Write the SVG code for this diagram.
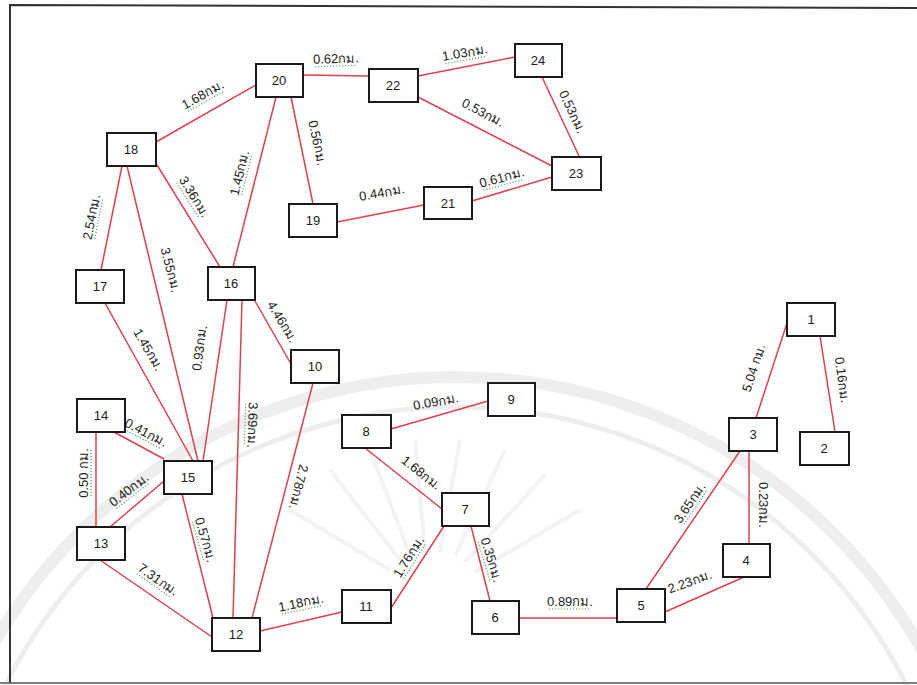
<svg xmlns="http://www.w3.org/2000/svg" width="917" height="685" viewBox="0 0 917 685">
<style>
.wm{fill:none;stroke:#eeeeee}
.frame{fill:none;stroke:#333;stroke-width:2}
.e{stroke:#e0404f;stroke-width:1.5;fill:none}
.box{fill:#fff;stroke:#1a1a1a;stroke-width:2}
.n{font-family:"Liberation Sans","DejaVu Sans",sans-serif;font-size:13px;fill:#1a1a1a;text-anchor:middle}
.l{font-family:"Liberation Sans","DejaVu Sans","Noto Sans",sans-serif;font-size:13px;fill:#222;text-anchor:middle}
.sq{stroke:#3a9a4a;stroke-width:1.2;stroke-dasharray:1 2}
</style>
<rect width="917" height="685" fill="#fff"/>
<g id="watermark">
<circle class="wm" cx="456" cy="911" r="534" stroke-width="12"/>
<circle class="wm" cx="456" cy="911" r="504" stroke-width="5"/>
<g stroke="#f3f3f3" stroke-width="4" fill="none">
<line x1="400" y1="560" x2="330" y2="470"/>
<line x1="410" y1="555" x2="370" y2="450"/>
<line x1="425" y1="552" x2="415" y2="440"/>
<line x1="440" y1="552" x2="460" y2="440"/>
<line x1="455" y1="556" x2="505" y2="450"/>
<line x1="465" y1="562" x2="545" y2="475"/>
<line x1="390" y1="570" x2="290" y2="510"/>
<line x1="475" y1="572" x2="580" y2="510"/>
</g>
</g>
<path class="frame" d="M10 683 L10 5 L917 8"/>
<line x1="0" y1="683" x2="917" y2="683" stroke="#555" stroke-width="1.5"/>
<g id="connectors">
<line class="e" x1="156" y1="142" x2="256" y2="85"/>
<line class="e" x1="303" y1="75" x2="369" y2="76"/>
<line class="e" x1="418" y1="76" x2="515" y2="57"/>
<line class="e" x1="542" y1="77" x2="580" y2="158"/>
<line class="e" x1="418" y1="97" x2="552" y2="166"/>
<line class="e" x1="472" y1="201" x2="552" y2="177"/>
<line class="e" x1="337" y1="222" x2="424" y2="205"/>
<line class="e" x1="291" y1="97" x2="313" y2="204"/>
<line class="e" x1="276" y1="97" x2="233" y2="267"/>
<line class="e" x1="157" y1="165" x2="220" y2="267"/>
<line class="e" x1="122" y1="166" x2="101" y2="270"/>
<line class="e" x1="127" y1="166" x2="198" y2="461"/>
<line class="e" x1="105" y1="303" x2="193" y2="461"/>
<line class="e" x1="227" y1="300" x2="203" y2="461"/>
<line class="e" x1="242" y1="300" x2="233" y2="618"/>
<line class="e" x1="255" y1="301" x2="291" y2="364"/>
<line class="e" x1="313" y1="383" x2="252" y2="618"/>
<line class="e" x1="112" y1="431" x2="164" y2="459"/>
<line class="e" x1="96" y1="431" x2="96" y2="527"/>
<line class="e" x1="110" y1="527" x2="164" y2="481"/>
<line class="e" x1="100" y1="560" x2="212" y2="637"/>
<line class="e" x1="182" y1="494" x2="213" y2="618"/>
<line class="e" x1="260" y1="631" x2="342" y2="612"/>
<line class="e" x1="391" y1="608" x2="444" y2="526"/>
<line class="e" x1="471" y1="526" x2="490" y2="601"/>
<line class="e" x1="365" y1="448" x2="442" y2="509"/>
<line class="e" x1="391" y1="429" x2="488" y2="401"/>
<line class="e" x1="519" y1="618" x2="617" y2="618"/>
<line class="e" x1="665" y1="612" x2="744" y2="577"/>
<line class="e" x1="646" y1="589" x2="740" y2="451"/>
<line class="e" x1="749" y1="451" x2="749" y2="544"/>
<line class="e" x1="756" y1="418" x2="787" y2="323"/>
<line class="e" x1="820" y1="336" x2="835" y2="432"/>
</g>
<g id="labels">
<g transform="translate(203,95) rotate(-29)"><text class="l" y="4">1.68กม.</text><line class="sq" x1="-21" y1="7" x2="21" y2="7"/></g>
<g transform="translate(336,59) rotate(-2)"><text class="l" y="4">0.62กม.</text><line class="sq" x1="-21" y1="7" x2="21" y2="7"/></g>
<g transform="translate(465,53) rotate(-10)"><text class="l" y="4">1.03กม.</text><line class="sq" x1="-21" y1="7" x2="21" y2="7"/></g>
<g transform="translate(572,112) rotate(65)"><text class="l" y="4">0.53กม.</text></g>
<g transform="translate(483,113) rotate(28)"><text class="l" y="4">0.53กม.</text></g>
<g transform="translate(317,143) rotate(78)"><text class="l" y="4">0.56กม.</text></g>
<g transform="translate(240,173) rotate(-76)"><text class="l" y="4">1.45กม.</text><line class="sq" x1="-21" y1="7" x2="21" y2="7"/></g>
<g transform="translate(194,197) rotate(58)"><text class="l" y="4">3.36กม.</text><line class="sq" x1="-21" y1="7" x2="21" y2="7"/></g>
<g transform="translate(382,193) rotate(-10)"><text class="l" y="4">0.44กม.</text></g>
<g transform="translate(502,178) rotate(-15)"><text class="l" y="4">0.61กม.</text><line class="sq" x1="-21" y1="7" x2="21" y2="7"/></g>
<g transform="translate(92,217) rotate(-79)"><text class="l" y="4">2.54กม.</text><line class="sq" x1="-21" y1="7" x2="21" y2="7"/></g>
<g transform="translate(170,270) rotate(76)"><text class="l" y="4">3.55กม.</text></g>
<g transform="translate(148,350) rotate(60)"><text class="l" y="4">1.45กม.</text></g>
<g transform="translate(200,348) rotate(-82)"><text class="l" y="4">0.93กม.</text></g>
<g transform="translate(282,322) rotate(59)"><text class="l" y="4">4.46กม.</text></g>
<g transform="translate(252,425) rotate(92)"><text class="l" y="4">3.69กม.</text><line class="sq" x1="-21" y1="7" x2="21" y2="7"/></g>
<g transform="translate(146,433) rotate(28)"><text class="l" y="4">0.41กม.</text><line class="sq" x1="-21" y1="7" x2="21" y2="7"/></g>
<g transform="translate(84,473) rotate(-90)"><text class="l" y="4">0.50 กม.</text><line class="sq" x1="-23" y1="7" x2="23" y2="7"/></g>
<g transform="translate(129,490) rotate(-38)"><text class="l" y="4">0.40กม.</text><line class="sq" x1="-21" y1="7" x2="21" y2="7"/></g>
<g transform="translate(205,540) rotate(74)"><text class="l" y="4">0.57กม.</text><line class="sq" x1="-21" y1="7" x2="21" y2="7"/></g>
<g transform="translate(158,580) rotate(35)"><text class="l" y="4">7.31กม.</text><line class="sq" x1="-21" y1="7" x2="21" y2="7"/></g>
<g transform="translate(298,487) rotate(104)"><text class="l" y="4">2.78กม.</text></g>
<g transform="translate(301,603) rotate(-12)"><text class="l" y="4">1.18กม.</text><line class="sq" x1="-21" y1="7" x2="21" y2="7"/></g>
<g transform="translate(409,557) rotate(-58)"><text class="l" y="4">1.76กม.</text><line class="sq" x1="-21" y1="7" x2="21" y2="7"/></g>
<g transform="translate(491,560) rotate(73)"><text class="l" y="4">0.35กม.</text><line class="sq" x1="-21" y1="7" x2="21" y2="7"/></g>
<g transform="translate(421,473) rotate(38)"><text class="l" y="4">1.68กม.</text></g>
<g transform="translate(436,402) rotate(-10)"><text class="l" y="4">0.09กม.</text></g>
<g transform="translate(570,602)"><text class="l" y="4">0.89กม.</text><line class="sq" x1="-21" y1="7" x2="21" y2="7"/></g>
<g transform="translate(690,582) rotate(-20)"><text class="l" y="4">2.23กม.</text></g>
<g transform="translate(690,503) rotate(-56)"><text class="l" y="4">3.65กม.</text><line class="sq" x1="-21" y1="7" x2="21" y2="7"/></g>
<g transform="translate(763,505) rotate(90)"><text class="l" y="4">0.23กม.</text></g>
<g transform="translate(754,368) rotate(-72)"><text class="l" y="4">5.04 กม.</text></g>
<g transform="translate(842,380) rotate(82)"><text class="l" y="4">0.16กม.</text></g>
</g>
<g id="n1"><rect class="box" x="787" y="303" width="48" height="33"/><text class="n" x="811" y="324">1</text></g>
<g id="n2"><rect class="box" x="800" y="432" width="49" height="33"/><text class="n" x="824" y="453">2</text></g>
<g id="n3"><rect class="box" x="729" y="418" width="48" height="33"/><text class="n" x="753" y="439">3</text></g>
<g id="n4"><rect class="box" x="723" y="544" width="47" height="33"/><text class="n" x="746" y="565">4</text></g>
<g id="n5"><rect class="box" x="617" y="589" width="48" height="33"/><text class="n" x="641" y="610">5</text></g>
<g id="n6"><rect class="box" x="472" y="601" width="47" height="33"/><text class="n" x="495" y="622">6</text></g>
<g id="n7"><rect class="box" x="442" y="493" width="47" height="33"/><text class="n" x="465" y="514">7</text></g>
<g id="n8"><rect class="box" x="342" y="415" width="49" height="33"/><text class="n" x="366" y="436">8</text></g>
<g id="n9"><rect class="box" x="488" y="383" width="47" height="33"/><text class="n" x="511" y="404">9</text></g>
<g id="n10"><rect class="box" x="291" y="350" width="48" height="33"/><text class="n" x="315" y="371">10</text></g>
<g id="n11"><rect class="box" x="342" y="590" width="49" height="33"/><text class="n" x="366" y="611">11</text></g>
<g id="n12"><rect class="box" x="212" y="618" width="48" height="33"/><text class="n" x="236" y="639">12</text></g>
<g id="n13"><rect class="box" x="77" y="527" width="48" height="33"/><text class="n" x="101" y="548">13</text></g>
<g id="n14"><rect class="box" x="77" y="399" width="48" height="33"/><text class="n" x="101" y="420">14</text></g>
<g id="n15"><rect class="box" x="164" y="461" width="48" height="33"/><text class="n" x="188" y="482">15</text></g>
<g id="n16"><rect class="box" x="208" y="267" width="47" height="33"/><text class="n" x="231" y="288">16</text></g>
<g id="n17"><rect class="box" x="76" y="270" width="48" height="33"/><text class="n" x="100" y="291">17</text></g>
<g id="n18"><rect class="box" x="107" y="133" width="49" height="33"/><text class="n" x="131" y="154">18</text></g>
<g id="n19"><rect class="box" x="289" y="204" width="48" height="33"/><text class="n" x="313" y="225">19</text></g>
<g id="n20"><rect class="box" x="256" y="64" width="47" height="33"/><text class="n" x="279" y="85">20</text></g>
<g id="n21"><rect class="box" x="424" y="187" width="48" height="32"/><text class="n" x="448" y="208">21</text></g>
<g id="n22"><rect class="box" x="369" y="69" width="49" height="33"/><text class="n" x="393" y="90">22</text></g>
<g id="n23"><rect class="box" x="552" y="157" width="49" height="33"/><text class="n" x="576" y="178">23</text></g>
<g id="n24"><rect class="box" x="515" y="44" width="47" height="33"/><text class="n" x="538" y="65">24</text></g>
</svg>
